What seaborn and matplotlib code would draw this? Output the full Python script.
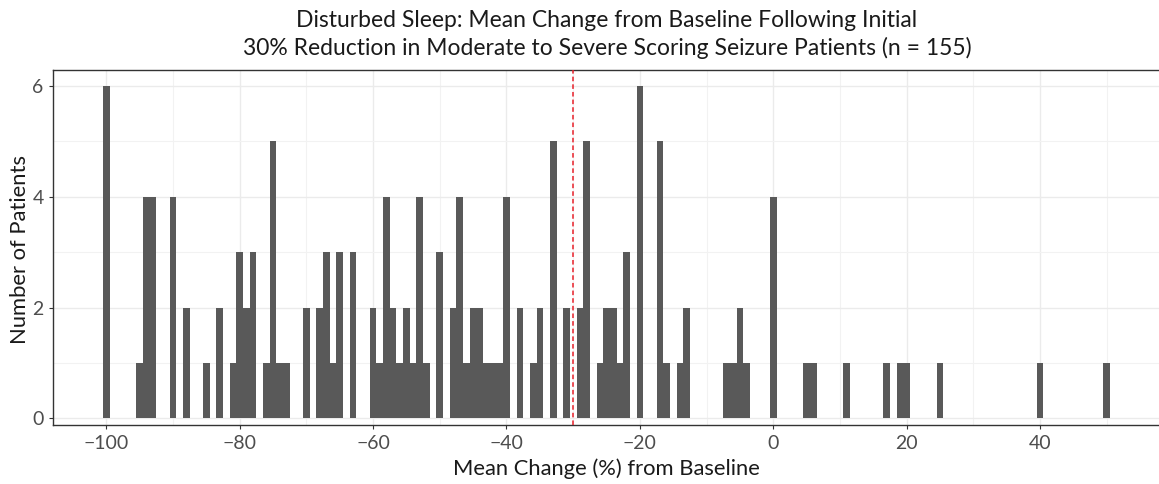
import matplotlib
matplotlib.use("Agg")
import matplotlib.pyplot as plt
import seaborn as sns
import numpy as np
import pandas as pd

# Mean change (%) values and number of patients at each value
change_values = [-100, -95, -94, -93, -90, -88, -85, -83, -81, -80, -79, -78,
                 -76, -75, -74, -73, -70, -68, -67, -66, -65, -63,
                 -60, -59, -58, -57, -56, -55, -54, -53, -52,
                 -50, -48, -47, -46, -45, -44, -43, -42, -41, -40,
                 -38, -36, -35, -33, -31, -29, -28, -26, -25, -24, -23, -22,
                 -20, -17, -16, -14, -13, -7, -6, -5, -4, 0,
                 5, 6, 11, 17, 19, 20, 25, 40, 50]
patient_counts = [6, 1, 4, 4, 4, 2, 1, 2, 1, 3, 2, 3,
                  1, 5, 1, 1, 2, 2, 3, 1, 3, 3,
                  2, 1, 4, 2, 1, 2, 1, 4, 1,
                  3, 2, 4, 1, 2, 2, 1, 1, 1, 4,
                  2, 1, 2, 5, 2, 2, 5, 1, 2, 2, 1, 3,
                  6, 5, 1, 1, 2, 1, 1, 2, 1, 4,
                  1, 1, 1, 1, 1, 1, 1, 1, 1]
threshold = -30
x_ticks = [-100, -80, -60, -40, -20, 0, 20, 40]
y_ticks = [0, 2, 4, 6]
title_lines = ["Disturbed Sleep: Mean Change from Baseline Following Initial",
               "30% Reduction in Moderate to Severe Scoring Seizure Patients (n = 155)"]

df = pd.DataFrame({"change": change_values, "count": patient_counts})

sns.set_theme(style="white")
plt.rcParams['font.family'] = ['Lato', 'DejaVu Sans']

fig = plt.figure(figsize=(11.59, 4.84), dpi=100)
W, H = 1159, 484
left, right, top, bottom = 52.6, 1160.5, 70, 425
ax = fig.add_axes([left / W, 1 - bottom / H, (right - left) / W, (bottom - top) / H])

sns.histplot(data=df, x="change", weights="count", discrete=True, shrink=1,
             color="#595959", alpha=1, linewidth=0, ax=ax, zorder=3)

ax.axvline(threshold, color="#E8202A", linestyle=(0, (3, 2)), linewidth=1.1, zorder=4)

ax.set_xlim(-108.05, 58.05)
ax.set_ylim(-0.12, 6.29)
ax.set_xticks(x_ticks)
ax.set_xticks([-90, -70, -50, -30, -10, 10, 30, 50], minor=True)
ax.set_yticks(y_ticks)
ax.set_yticks([1, 3, 5], minor=True)
ax.grid(True, which="major", color="#EBEBEB", linewidth=1.0, zorder=0)
ax.grid(True, which="minor", color="#F2F2F2", linewidth=0.8, zorder=0)
ax.set_axisbelow(True)

for s in ax.spines.values():
    s.set_color("#333333")
    s.set_linewidth(1.0)

ax.tick_params(axis="x", which="major", length=3, width=0.8, color="#333333",
               labelsize=14, labelcolor="#4D4D4D", bottom=True, pad=4.5)
ax.tick_params(axis="y", which="major", length=3, width=0.8, color="#333333",
               labelsize=14, labelcolor="#4D4D4D", left=True, pad=3.5)
ax.tick_params(axis="both", which="minor", length=0)

ax.set_xlabel("Mean Change (%) from Baseline", fontsize=15.8, color="#1A1A1A", va="baseline")
ax.xaxis.set_label_coords(0.5, (bottom - 475) / (bottom - top))
ax.set_ylabel("Number of Patients", fontsize=15.8, color="#1A1A1A", va="center")
ax.yaxis.set_label_coords((20 - left) / (right - left), (bottom - 249) / (bottom - top))

cx = 607 / W
fig.text(cx, 1 - 27 / H, title_lines[0], ha="center", va="baseline",
         fontsize=16.5, color="#1A1A1A")
fig.text(cx, 1 - 55 / H, title_lines[1], ha="center", va="baseline",
         fontsize=16.5, color="#1A1A1A")

fig.savefig("out.png", dpi=100)
